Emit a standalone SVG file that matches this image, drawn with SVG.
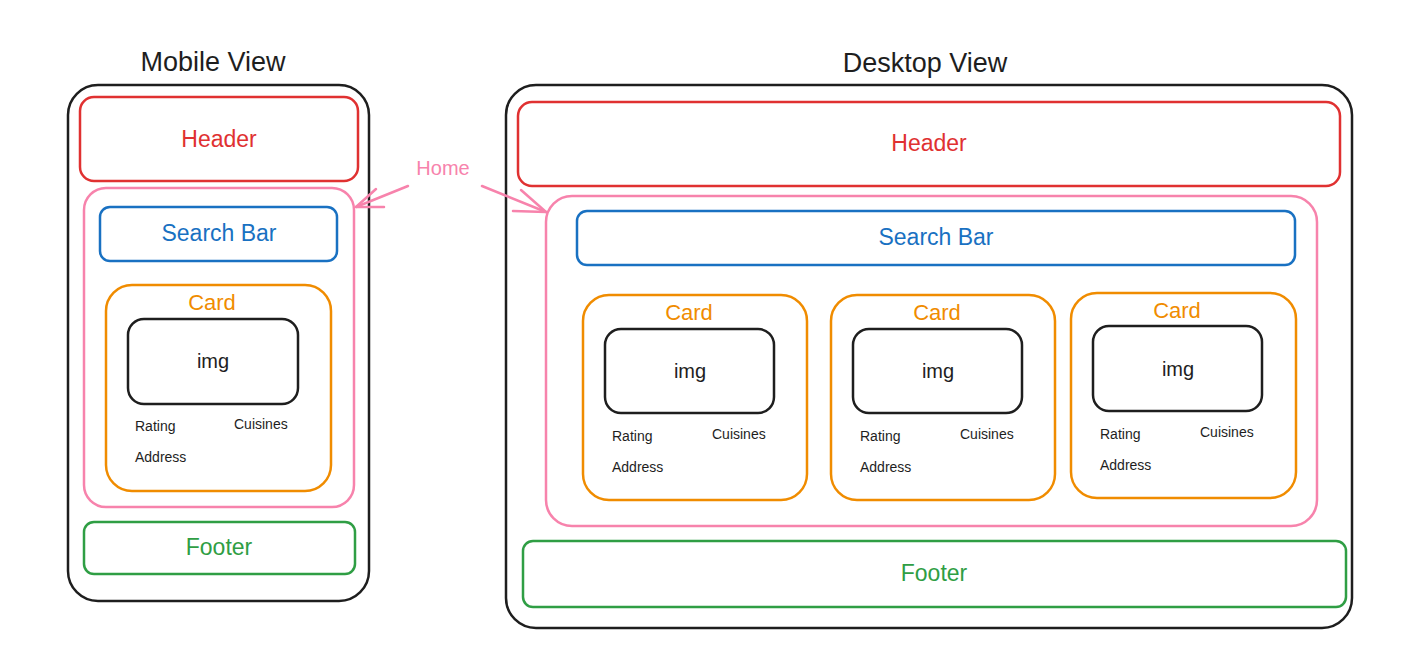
<svg xmlns="http://www.w3.org/2000/svg" width="1407" height="670" viewBox="0 0 1407 670">
<style>
text{font-family:"Liberation Sans","DejaVu Sans",sans-serif;text-anchor:middle}
rect{fill:none;stroke-width:2.5;stroke-linejoin:round}
.k{stroke:#1e1e1e}
.r{stroke:#e03131}
.p{stroke:#f783ac}
.b{stroke:#1971c2}
.o{stroke:#f08c00}
.g{stroke:#2f9e44}
.title{font-size:27px;fill:#1e1e1e}
.tr{fill:#e03131;font-size:23px}
.tb{fill:#1971c2;font-size:23px}
.to{fill:#f08c00;font-size:22px}
.tg{fill:#2f9e44;font-size:23px}
.ti{fill:#1e1e1e;font-size:20px}
.ts{fill:#1e1e1e;font-size:14px;text-anchor:start}
.tp{fill:#f783ac;font-size:20px}
.arr{fill:none;stroke:#f783ac;stroke-width:2.5;stroke-linecap:round;stroke-linejoin:round}
</style>
<rect width="1407" height="670" fill="#ffffff" stroke="none"/>
<g id="mobile-title"><text class="title" x="213" y="71">Mobile View</text></g>
<g id="desktop-title"><text class="title" x="925" y="72">Desktop View</text></g>
<g id="mobile-frame"><rect class="k" x="68" y="85" width="301" height="516" rx="30"/></g>
<g id="mobile-header"><rect class="r" x="80" y="97" width="278" height="84" rx="14"/><text class="tr" x="219" y="147">Header</text></g>
<g id="mobile-home"><rect class="p" x="84" y="188" width="270" height="319" rx="22"/></g>
<g id="mobile-search"><rect class="b" x="100" y="207" width="237" height="54" rx="10"/><text class="tb" x="219" y="241">Search Bar</text></g>
<g id="mobile-card"><rect class="o" x="106" y="285" width="225" height="206" rx="26"/><text class="to" x="212" y="310">Card</text>
<rect class="k" x="128" y="319" width="170" height="85" rx="16"/><text class="ti" x="213" y="368">img</text>
<text class="ts" x="135" y="431">Rating</text><text class="ts" x="234" y="429">Cuisines</text><text class="ts" x="135" y="462">Address</text></g>
<g id="mobile-footer"><rect class="g" x="84" y="522" width="271" height="52" rx="10"/><text class="tg" x="219" y="555">Footer</text></g>
<g id="desktop-frame"><rect class="k" x="506" y="85" width="846" height="543" rx="30"/></g>
<g id="desktop-header"><rect class="r" x="518" y="102" width="822" height="84" rx="14"/><text class="tr" x="929" y="151">Header</text></g>
<g id="desktop-home"><rect class="p" x="546" y="196" width="771" height="330" rx="26"/></g>
<g id="desktop-search"><rect class="b" x="577" y="211" width="718" height="54" rx="10"/><text class="tb" x="936" y="245">Search Bar</text></g>
<g id="desktop-card-1"><rect class="o" x="583" y="295" width="224" height="205" rx="26"/><text class="to" x="689" y="320">Card</text>
<rect class="k" x="605" y="329" width="169" height="84" rx="16"/><text class="ti" x="690" y="378">img</text>
<text class="ts" x="612" y="441">Rating</text><text class="ts" x="712" y="439">Cuisines</text><text class="ts" x="612" y="472">Address</text></g>
<g id="desktop-card-2"><rect class="o" x="831" y="295" width="224" height="205" rx="26"/><text class="to" x="937" y="320">Card</text>
<rect class="k" x="853" y="329" width="169" height="84" rx="16"/><text class="ti" x="938" y="378">img</text>
<text class="ts" x="860" y="441">Rating</text><text class="ts" x="960" y="439">Cuisines</text><text class="ts" x="860" y="472">Address</text></g>
<g id="desktop-card-3"><rect class="o" x="1071" y="293" width="225" height="205" rx="26"/><text class="to" x="1177" y="318">Card</text>
<rect class="k" x="1093" y="326" width="169" height="85" rx="16"/><text class="ti" x="1178" y="376">img</text>
<text class="ts" x="1100" y="439">Rating</text><text class="ts" x="1200" y="437">Cuisines</text><text class="ts" x="1100" y="470">Address</text></g>
<g id="desktop-footer"><rect class="g" x="523" y="541" width="823" height="66" rx="10"/><text class="tg" x="934" y="581">Footer</text></g>
<g id="home-label"><text class="tp" x="443" y="175">Home</text></g>
<g id="connectors">
<path class="arr" d="M408 186 L356 207"/>
<path class="arr" d="M376 189 L356 207 L384 207"/>
<path class="arr" d="M482 186 L546 212"/>
<path class="arr" d="M521 190 L546 212 L513 211"/>
</g>
</svg>
